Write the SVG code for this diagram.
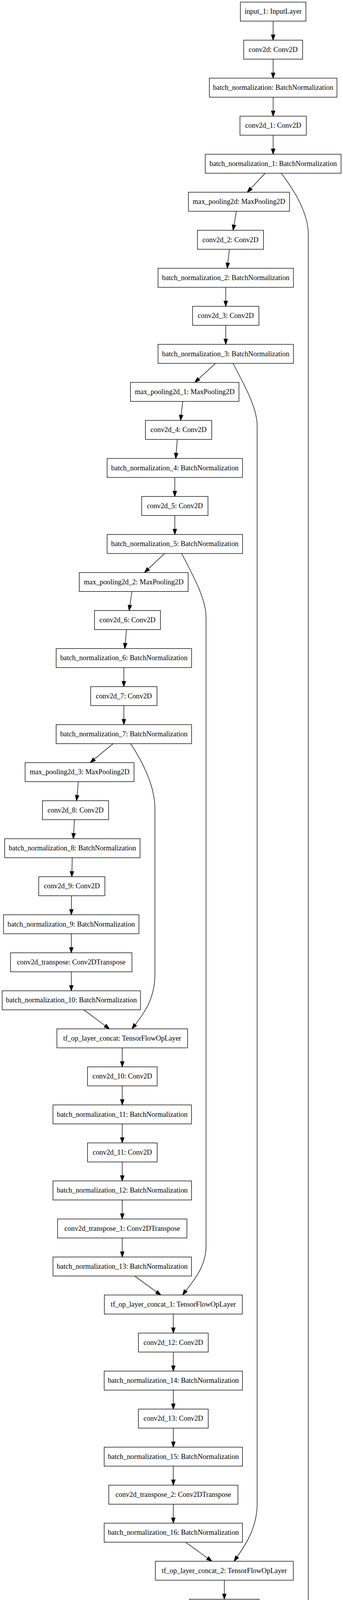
<svg xmlns="http://www.w3.org/2000/svg" width="879" height="5219" viewBox="0 0 879 5219">
<style>
.node rect{fill:#fff;stroke:#000;stroke-width:1.35}
.node text{font-family:"Liberation Serif","Times New Roman",serif;font-size:18.3px;fill:#000;text-anchor:middle}
.edges path{fill:none;stroke:#000;stroke-width:1.35;marker-end:url(#arrow)}
</style>
<defs>
<marker id="arrow" markerUnits="userSpaceOnUse" viewBox="-1 -1 15.5 11.4" markerWidth="15.5" markerHeight="11.4" refX="13.5" refY="4.7" orient="auto" overflow="visible">
<path d="M0,0 L13.5,4.7 L0,9.4 Z" fill="#000" stroke="#000" stroke-width="1.35"/>
</marker>
</defs>
<rect width="879" height="5219" fill="#fff"/>
<g class="edges" id="connectors">
<path d="M700,54.08 L700,102.76"/>
<path d="M700,151.43 L700,200.11"/>
<path d="M700,248.78 L700,297.45"/>
<path d="M700,346.12 L700,394.80"/>
<path d="M679.5,443.47 L633.7,492.15"/>
<path d="M720.7,443.47 C748,480 790,540 790,600 L790,4550 C790,4610 750,4640 719.6,4678.16"/>
<path d="M605.7,540.82 L597.3,589.50"/>
<path d="M587.8,638.17 L582.2,686.85"/>
<path d="M578.5,735.52 L578.5,784.20"/>
<path d="M578.5,832.87 L578.5,881.55"/>
<path d="M552.4,930.22 L499.2,978.90"/>
<path d="M597.3,930.22 C620,975 659,1040 659,1090 L659,3850 C659,3920 618,3970 600,3996.72"/>
<path d="M468.3,1027.57 L462.7,1076.25"/>
<path d="M454.3,1124.92 L450.4,1173.60"/>
<path d="M448,1222.27 L448,1270.94"/>
<path d="M448,1319.61 L448,1368.29"/>
<path d="M421.8,1416.96 L370.2,1465.64"/>
<path d="M465.5,1416.96 C490,1465 528,1530 528,1580 L528,3190 C528,3250 485,3290 468.3,3315.27"/>
<path d="M338.2,1514.31 L330.9,1562.99"/>
<path d="M324.2,1611.66 L319.7,1660.34"/>
<path d="M317.4,1709.01 L317.4,1757.69"/>
<path d="M317.4,1806.36 L317.4,1855.04"/>
<path d="M290,1903.71 L231.1,1952.39"/>
<path d="M334.8,1903.71 C365,1950 397,2010 397,2070 L397,2495 C397,2565 360,2605 338.2,2633.83"/>
<path d="M200.8,2001.06 L196.3,2049.74"/>
<path d="M190.7,2098.41 L187.9,2147.09"/>
<path d="M185.1,2195.76 L184,2244.43"/>
<path d="M183.4,2293.10 L182.8,2341.78"/>
<path d="M182.8,2390.45 L182.8,2439.13"/>
<path d="M182.8,2487.80 L182.8,2536.48"/>
<path d="M214.8,2585.15 L280.4,2633.83"/>
<path d="M313.3,2682.50 L313.3,2731.18"/>
<path d="M313.3,2779.85 L313.3,2828.53"/>
<path d="M313.3,2877.20 L313.3,2925.88"/>
<path d="M313.3,2974.55 L313.3,3023.23"/>
<path d="M313.3,3071.90 L313.3,3120.58"/>
<path d="M313.3,3169.25 L313.3,3217.92"/>
<path d="M345,3266.59 L412.2,3315.27"/>
<path d="M444.2,3363.94 L444.2,3412.62"/>
<path d="M444.2,3461.29 L444.2,3509.97"/>
<path d="M444.2,3558.64 L444.2,3607.32"/>
<path d="M444.2,3655.99 L444.2,3704.67"/>
<path d="M444.2,3753.34 L444.2,3802.02"/>
<path d="M444.2,3850.69 L444.2,3899.37"/>
<path d="M475.6,3948.04 L542.9,3996.72"/>
<path d="M574.9,4045.39 L574.9,4094.07"/>
<path d="M574.9,4142.74 L574.9,4191.41"/>
<path d="M574.9,4240.08 L574.9,4288.76"/>
<path d="M574.9,4337.43 L574.9,4386.11"/>
<path d="M574.9,4434.78 L574.9,4483.46"/>
<path d="M574.9,4532.13 L574.9,4580.81"/>
<path d="M601.2,4629.48 L655.1,4678.16"/>
<path d="M681.4,4726.83 L681.4,4775.51"/>
<path d="M681.4,4824.18 L681.4,4872.86"/>
<path d="M681.4,4921.53 L681.4,4970.21"/>
<path d="M681.4,5018.88 L681.4,5067.56"/>
<path d="M681.4,5116.23 L681.4,5164.91"/>
</g>
<g id="input_1" class="node"><rect x="616" y="5.41" width="168" height="48.67"/><text x="700" y="35.41">input_1: InputLayer</text></g>
<g id="conv2d" class="node"><rect x="624.5" y="102.76" width="151" height="48.67"/><text x="700" y="132.76">conv2d: Conv2D</text></g>
<g id="batch_normalization" class="node"><rect x="536.5" y="200.11" width="327" height="48.67"/><text x="700" y="230.11">batch_normalization: BatchNormalization</text></g>
<g id="conv2d_1" class="node"><rect x="615" y="297.45" width="170" height="48.67"/><text x="700" y="327.45">conv2d_1: Conv2D</text></g>
<g id="batch_normalization_1" class="node"><rect x="526" y="394.80" width="348" height="48.67"/><text x="700" y="424.80">batch_normalization_1: BatchNormalization</text></g>
<g id="max_pooling2d" class="node"><rect x="482.9" y="492.15" width="259" height="48.67"/><text x="612.4" y="522.15">max_pooling2d: MaxPooling2D</text></g>
<g id="conv2d_2" class="node"><rect x="505.9" y="589.50" width="169.4" height="48.67"/><text x="590.6" y="619.50">conv2d_2: Conv2D</text></g>
<g id="batch_normalization_2" class="node"><rect x="405" y="686.85" width="347" height="48.67"/><text x="578.5" y="716.85">batch_normalization_2: BatchNormalization</text></g>
<g id="conv2d_3" class="node"><rect x="493.5" y="784.20" width="170" height="48.67"/><text x="578.5" y="814.20">conv2d_3: Conv2D</text></g>
<g id="batch_normalization_3" class="node"><rect x="405" y="881.55" width="347" height="48.67"/><text x="578.5" y="911.55">batch_normalization_3: BatchNormalization</text></g>
<g id="max_pooling2d_1" class="node"><rect x="334.4" y="978.90" width="278" height="48.67"/><text x="473.4" y="1008.90">max_pooling2d_1: MaxPooling2D</text></g>
<g id="conv2d_4" class="node"><rect x="372.6" y="1076.25" width="170" height="48.67"/><text x="457.6" y="1106.25">conv2d_4: Conv2D</text></g>
<g id="batch_normalization_4" class="node"><rect x="274.5" y="1173.60" width="347" height="48.67"/><text x="448" y="1203.60">batch_normalization_4: BatchNormalization</text></g>
<g id="conv2d_5" class="node"><rect x="363" y="1270.94" width="170" height="48.67"/><text x="448" y="1300.94">conv2d_5: Conv2D</text></g>
<g id="batch_normalization_5" class="node"><rect x="274.5" y="1368.29" width="347" height="48.67"/><text x="448" y="1398.29">batch_normalization_5: BatchNormalization</text></g>
<g id="max_pooling2d_2" class="node"><rect x="203.2" y="1465.64" width="279" height="48.67"/><text x="342.7" y="1495.64">max_pooling2d_2: MaxPooling2D</text></g>
<g id="conv2d_6" class="node"><rect x="242.2" y="1562.99" width="169" height="48.67"/><text x="326.7" y="1592.99">conv2d_6: Conv2D</text></g>
<g id="batch_normalization_6" class="node"><rect x="143.9" y="1660.34" width="347" height="48.67"/><text x="317.4" y="1690.34">batch_normalization_6: BatchNormalization</text></g>
<g id="conv2d_7" class="node"><rect x="232.4" y="1757.69" width="170" height="48.67"/><text x="317.4" y="1787.69">conv2d_7: Conv2D</text></g>
<g id="batch_normalization_7" class="node"><rect x="143.9" y="1855.04" width="347" height="48.67"/><text x="317.4" y="1885.04">batch_normalization_7: BatchNormalization</text></g>
<g id="max_pooling2d_3" class="node"><rect x="64.4" y="1952.39" width="279" height="48.67"/><text x="203.9" y="1982.39">max_pooling2d_3: MaxPooling2D</text></g>
<g id="conv2d_8" class="node"><rect x="108.8" y="2049.74" width="169.4" height="48.67"/><text x="193.5" y="2079.74">conv2d_8: Conv2D</text></g>
<g id="batch_normalization_8" class="node"><rect x="11.9" y="2147.09" width="347" height="48.67"/><text x="185.4" y="2177.09">batch_normalization_8: BatchNormalization</text></g>
<g id="conv2d_9" class="node"><rect x="99.3" y="2244.43" width="169.4" height="48.67"/><text x="184" y="2274.43">conv2d_9: Conv2D</text></g>
<g id="batch_normalization_9" class="node"><rect x="9" y="2341.78" width="347" height="48.67"/><text x="182.5" y="2371.78">batch_normalization_9: BatchNormalization</text></g>
<g id="conv2d_transpose" class="node"><rect x="26.9" y="2439.13" width="311.3" height="48.67"/><text x="182.5" y="2469.13">conv2d_transpose: Conv2DTranspose</text></g>
<g id="batch_normalization_10" class="node"><rect x="5.6" y="2536.48" width="354.4" height="48.67"/><text x="182.8" y="2566.48">batch_normalization_10: BatchNormalization</text></g>
<g id="tf_op_layer_concat" class="node"><rect x="145.8" y="2633.83" width="334.8" height="48.67"/><text x="313.2" y="2663.83">tf_op_layer_concat: TensorFlowOpLayer</text></g>
<g id="conv2d_10" class="node"><rect x="224.3" y="2731.18" width="178.4" height="48.67"/><text x="313.5" y="2761.18">conv2d_10: Conv2D</text></g>
<g id="batch_normalization_11" class="node"><rect x="135.7" y="2828.53" width="355" height="48.67"/><text x="313.2" y="2858.53">batch_normalization_11: BatchNormalization</text></g>
<g id="conv2d_11" class="node"><rect x="224.3" y="2925.88" width="178.4" height="48.67"/><text x="313.5" y="2955.88">conv2d_11: Conv2D</text></g>
<g id="batch_normalization_12" class="node"><rect x="135.7" y="3023.23" width="355" height="48.67"/><text x="313.2" y="3053.23">batch_normalization_12: BatchNormalization</text></g>
<g id="conv2d_transpose_1" class="node"><rect x="147.5" y="3120.58" width="331.5" height="48.67"/><text x="313.2" y="3150.58">conv2d_transpose_1: Conv2DTranspose</text></g>
<g id="batch_normalization_13" class="node"><rect x="135.7" y="3217.92" width="355" height="48.67"/><text x="313.2" y="3247.92">batch_normalization_13: BatchNormalization</text></g>
<g id="tf_op_layer_concat_1" class="node"><rect x="267.5" y="3315.27" width="353.4" height="48.67"/><text x="444.2" y="3345.27">tf_op_layer_concat_1: TensorFlowOpLayer</text></g>
<g id="conv2d_12" class="node"><rect x="354.6" y="3412.62" width="179" height="48.67"/><text x="444.1" y="3442.62">conv2d_12: Conv2D</text></g>
<g id="batch_normalization_14" class="node"><rect x="267" y="3509.97" width="354.4" height="48.67"/><text x="444.2" y="3539.97">batch_normalization_14: BatchNormalization</text></g>
<g id="conv2d_13" class="node"><rect x="354.6" y="3607.32" width="179" height="48.67"/><text x="444.1" y="3637.32">conv2d_13: Conv2D</text></g>
<g id="batch_normalization_15" class="node"><rect x="267" y="3704.67" width="354.4" height="48.67"/><text x="444.2" y="3734.67">batch_normalization_15: BatchNormalization</text></g>
<g id="conv2d_transpose_2" class="node"><rect x="278.7" y="3802.02" width="331" height="48.67"/><text x="444.2" y="3832.02">conv2d_transpose_2: Conv2DTranspose</text></g>
<g id="batch_normalization_16" class="node"><rect x="267" y="3899.37" width="354.4" height="48.67"/><text x="444.2" y="3929.37">batch_normalization_16: BatchNormalization</text></g>
<g id="tf_op_layer_concat_2" class="node"><rect x="398.2" y="3996.72" width="353.4" height="48.67"/><text x="574.9" y="4026.72">tf_op_layer_concat_2: TensorFlowOpLayer</text></g>
<g id="conv2d_14" class="node"><rect x="485.7" y="4094.07" width="178.4" height="48.67"/><text x="574.9" y="4124.07">conv2d_14: Conv2D</text></g>
<g id="batch_normalization_17" class="node"><rect x="397.1" y="4191.41" width="355" height="48.67"/><text x="574.6" y="4221.41">batch_normalization_17: BatchNormalization</text></g>
<g id="conv2d_15" class="node"><rect x="485.7" y="4288.76" width="178.4" height="48.67"/><text x="574.9" y="4318.76">conv2d_15: Conv2D</text></g>
<g id="batch_normalization_18" class="node"><rect x="397.1" y="4386.11" width="355" height="48.67"/><text x="574.6" y="4416.11">batch_normalization_18: BatchNormalization</text></g>
<g id="conv2d_transpose_3" class="node"><rect x="409.4" y="4483.46" width="331" height="48.67"/><text x="574.9" y="4513.46">conv2d_transpose_3: Conv2DTranspose</text></g>
<g id="batch_normalization_19" class="node"><rect x="397.1" y="4580.81" width="355" height="48.67"/><text x="574.6" y="4610.81">batch_normalization_19: BatchNormalization</text></g>
<g id="tf_op_layer_concat_3" class="node"><rect x="504.7" y="4678.16" width="354" height="48.67"/><text x="681.7" y="4708.16">tf_op_layer_concat_3: TensorFlowOpLayer</text></g>
<g id="conv2d_16" class="node"><rect x="591.7" y="4775.51" width="179.5" height="48.67"/><text x="681.4" y="4805.51">conv2d_16: Conv2D</text></g>
<g id="batch_normalization_20" class="node"><rect x="503.7" y="4872.86" width="355" height="48.67"/><text x="681.2" y="4902.86">batch_normalization_20: BatchNormalization</text></g>
<g id="conv2d_17" class="node"><rect x="591.7" y="4970.21" width="179.5" height="48.67"/><text x="681.4" y="5000.21">conv2d_17: Conv2D</text></g>
<g id="batch_normalization_21" class="node"><rect x="503.7" y="5067.56" width="355" height="48.67"/><text x="681.2" y="5097.56">batch_normalization_21: BatchNormalization</text></g>
<g id="conv2d_18" class="node"><rect x="591.7" y="5164.91" width="179.5" height="48.67"/><text x="681.4" y="5194.91">conv2d_18: Conv2D</text></g>
</svg>
